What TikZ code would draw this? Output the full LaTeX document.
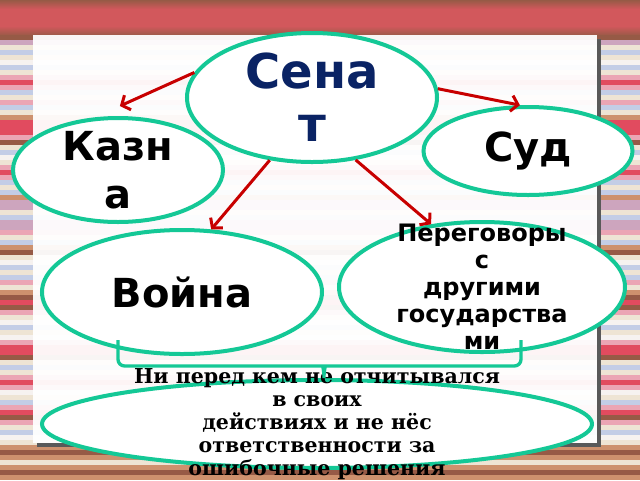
\documentclass[tikz,border=0pt]{standalone}
\usepackage{fontspec}
\setmainfont{DejaVu Serif}
\setsansfont{DejaVu Sans}
\usepackage{tikz}
\usetikzlibrary{shapes.geometric,arrows.meta}

\definecolor{ovalgreen}{RGB}{20,200,150}
\definecolor{arrred}{RGB}{200,0,0}
\definecolor{senatblue}{RGB}{10,35,100}
\definecolor{topred}{RGB}{210,88,92}
\definecolor{sbr}{RGB}{150,90,70}
\definecolor{srd}{RGB}{225,75,95}
\definecolor{spk}{RGB}{235,165,180}
\definecolor{sbl}{RGB}{195,205,230}
\definecolor{scr}{RGB}{238,228,212}
\definecolor{smv}{RGB}{205,165,190}
\definecolor{stn}{RGB}{205,145,110}
\definecolor{swh}{RGB}{246,242,240}

\begin{document}
\begin{tikzpicture}[x=0.75pt,y=-0.75pt,
  ovalbox/.style={ellipse,draw=ovalgreen,line width=3pt,fill=white,inner sep=0pt},
  word/.style={font=\sffamily\bfseries\fontsize{30}{36}\selectfont,align=center,inner sep=0pt},
  arr/.style={draw=arrred,line width=2.25pt,-{Straight Barb[length=5pt,width=12pt]}}]
\useasboundingbox (0,0) rectangle (640,480);
\fill[topred] (0,0) rectangle (640,36);
\shade[top color=sbr,bottom color=topred] (0,0) rectangle (640,9);
\shade[top color=topred,bottom color=sbr] (0,26) rectangle (640,36);
\foreach \c [count=\i] in {sbr,smv,scr,sbl,scr,swh,sbl,scr,spk,srd,spk,sbl,scr,spk,sbl,scr,stn,srd,srd,srd,spk,sbr,scr,sbl,swh,scr,spk,srd,spk,sbl,scr,sbl,stn,smv,smv,scr,sbl,smv,smv,spk,scr,sbl,stn,sbr,scr,swh,sbl,scr,sbl,spk,scr,stn,sbr,srd,sbr,spk,scr,swh,sbl,scr,swh,spk,srd,srd,sbr,scr,sbl,scr,spk,srd,spk,swh,scr,sbl,spk,srd,sbr,spk,scr,sbl,swh,scr,stn,sbr,stn,scr,stn,sbr,stn}
  \fill[\c] (0,{30+5*\i}) rectangle (640,{35+5*\i});
\fill[black!65] (597,39) rectangle (601,447);
\fill[black!65] (37,443) rectangle (601,447);
\fill[white,opacity=0.94] (33,35) rectangle (597,443);

\node[ovalbox,minimum width=187.5pt,minimum height=96.75pt] (senat) at (312,97.5) {};
\node[ovalbox,minimum width=157.5pt,minimum height=78pt] (kazna) at (118,170) {};
\node[ovalbox,minimum width=156.75pt,minimum height=66pt] (sud) at (528,151) {};
\node[ovalbox,minimum width=210pt,minimum height=93pt] (vojna) at (182,292) {};
\node[ovalbox,minimum width=214.5pt,minimum height=97.5pt] (peregovory) at (482,287) {};
\node[ovalbox,minimum width=412.5pt,minimum height=66pt] (itog) at (317,424) {};

\node[word,text=senatblue,font=\sffamily\bfseries\fontsize{36}{40}\selectfont] (senattext) at (senat) {Сена\\т};
\node[word] (kaznatext) at (kazna) {Казн\\а};
\node[word] (sudtext) at (sud) {Суд};
\node[word] (vojnatext) at (vojna) {Война};
\node[word,font=\sffamily\bfseries\fontsize{18}{20.3}\selectfont] (peregovorytext) at (peregovory) {Переговоры\\с\\другими\\государства\\ми};
\node[align=center,inner sep=0pt,font=\rmfamily\bfseries\fontsize{15.4}{17.3}\selectfont] (itogtext) at (317,424) {Ни перед кем не отчитывался\\в своих\\действиях и не нёс\\ответственности за\\ошибочные решения};

\draw[arr] (senat.168) -- ([yshift=7.5pt]kazna.88);
\draw[arr] (senat.236) -- (vojna.65);
\draw[arr] (senat.4) -- (sud.100);
\draw[arr] (senat.305) -- (peregovory.129);

\draw[ovalgreen,line width=2.5pt,rounded corners=5] (118,340) |- (316,366) to[out=0,in=90] (324,382) to[out=90,in=180] (332,366) -| (521,340);
\end{tikzpicture}
\end{document}
